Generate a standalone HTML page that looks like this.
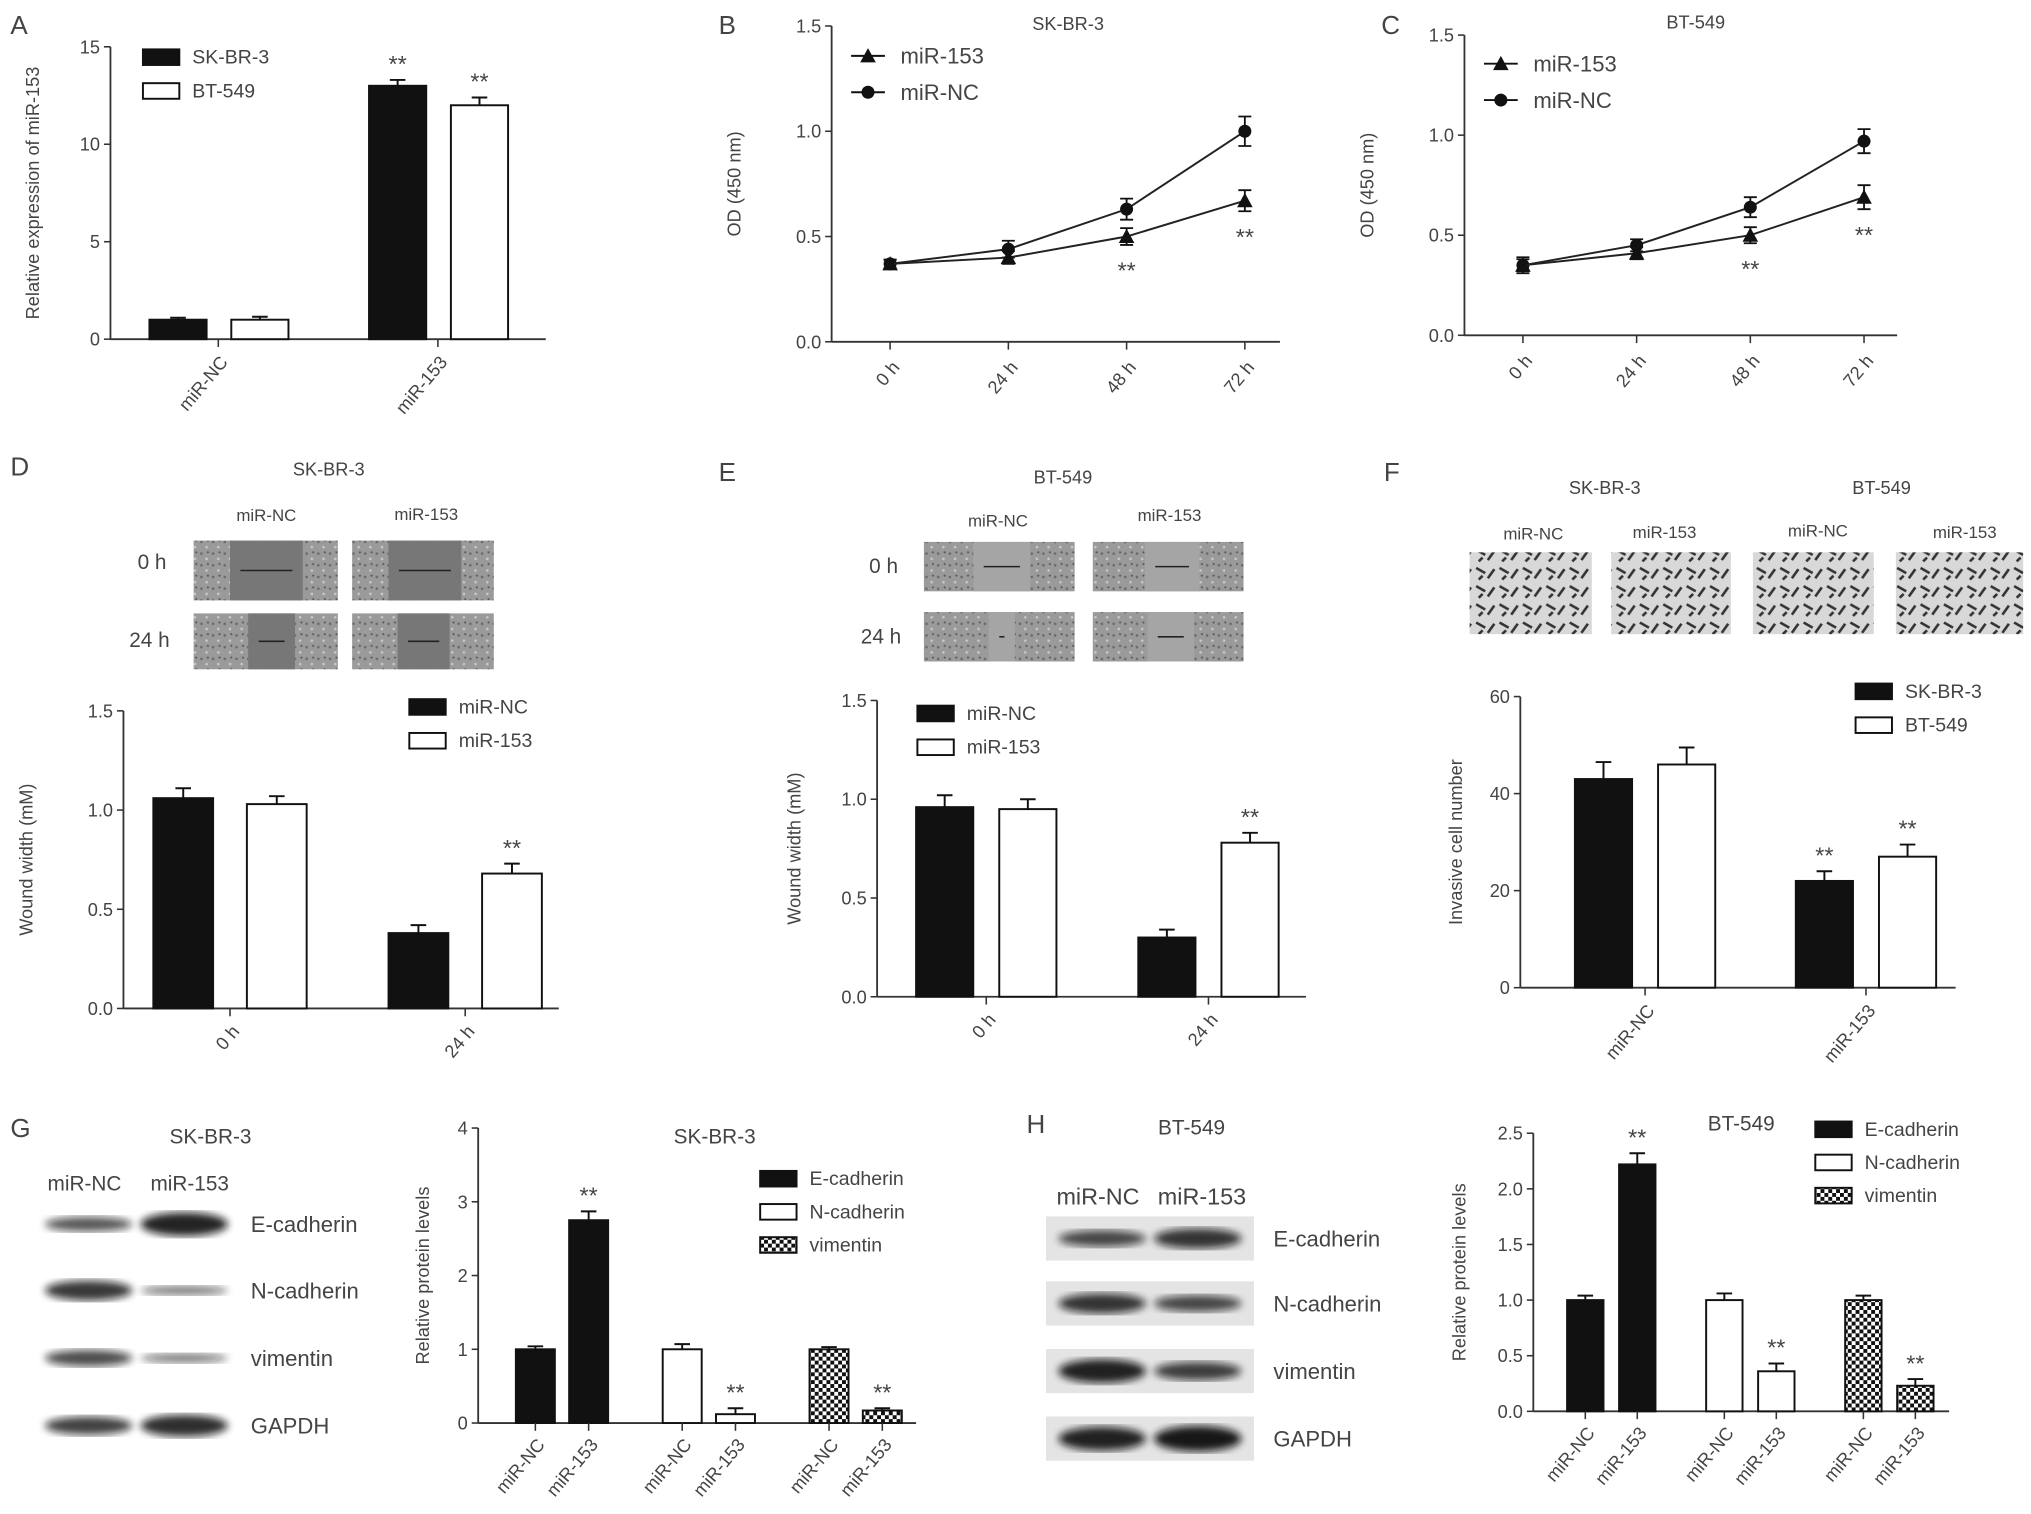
<!DOCTYPE html>
<html><head><meta charset="utf-8">
<style>
html,body{margin:0;padding:0;background:#fff;}
svg{display:block;font-family:"Liberation Sans",sans-serif;}
</style></head>
<body>
<svg id="fig" xmlns="http://www.w3.org/2000/svg" width="2031" height="1514" viewBox="0 0 1563 1165" preserveAspectRatio="none">
<defs>
<pattern id="chk" width="6" height="6" patternUnits="userSpaceOnUse">
<rect width="6" height="6" fill="#fff"/><rect width="3" height="3" fill="#111"/><rect x="3" y="3" width="3" height="3" fill="#111"/>
</pattern>
<filter id="blur"><feGaussianBlur stdDeviation="3"/></filter>
<pattern id="cells" width="9" height="9" patternUnits="userSpaceOnUse">
<rect width="9" height="9" fill="#9a9a9a"/><circle cx="2" cy="3" r="1" fill="#6a6a6a"/><circle cx="6" cy="7" r="1" fill="#c8c8c8"/><circle cx="7" cy="2" r="0.8" fill="#555"/>
</pattern>
<pattern id="inv" width="18" height="14" patternUnits="userSpaceOnUse">
<rect width="18" height="14" fill="#d8d8d8"/><path d="M2 3 L9 7 M11 11 L16 4 M4 12 L7 9" stroke="#333" stroke-width="2"/>
</pattern>
</defs>
</svg>
<script>
// ---- data ----
const aCats=['miR-NC','miR-153'];
const aSK=[1.0,13.0]; const aSKErr=[0.1,0.3];
const aBT=[1.0,12.0]; const aBTErr=[0.15,0.4];
const bTimes=['0 h','24 h','48 h','72 h'];
const bMiR153=[0.37,0.40,0.50,0.67]; const bMiR153Err=[0.02,0.03,0.04,0.05];
const bMiRNC=[0.37,0.44,0.63,1.00]; const bMiRNCErr=[0.02,0.04,0.05,0.07];
const cMiR153=[0.35,0.41,0.50,0.69]; const cMiR153Err=[0.03,0.03,0.04,0.06];
const cMiRNC=[0.35,0.45,0.64,0.97]; const cMiRNCErr=[0.04,0.03,0.05,0.06];
const dCats=['0 h','24 h'];
const dNC=[1.06,0.38]; const dNCErr=[0.05,0.04];
const d153=[1.03,0.68]; const d153Err=[0.04,0.05];
const eNC=[0.96,0.30]; const eNCErr=[0.06,0.04];
const e153=[0.95,0.78]; const e153Err=[0.05,0.05];
const fCats=['miR-NC','miR-153'];
const fSK=[43,22]; const fSKErr=[3.5,2];
const fBT=[46,27]; const fBTErr=[3.5,2.5];
const gProteins=['E-cadherin','N-cadherin','vimentin'];
const gNC=[1.0,1.0,1.0]; const gNCErr=[0.04,0.07,0.03];
const g153=[2.75,0.12,0.17]; const g153Err=[0.12,0.08,0.03];
const hNC=[1.0,1.0,1.0]; const hNCErr=[0.04,0.06,0.04];
const h153=[2.22,0.36,0.23]; const h153Err=[0.1,0.07,0.06];
const yTicks15=[0,5,10,15];
const yTicksOD=[0,0.5,1.0,1.5];
const yTicks60=[0,20,40,60];
const yTicks4=[0,1,2,3,4];
const yTicks25=[0,0.5,1.0,1.5,2.0,2.5];

const NS='http://www.w3.org/2000/svg';
const svg=document.getElementById('fig');
function mk(tag,attrs,txt){const e=document.createElementNS(NS,tag);for(const k in attrs)e.setAttribute(k,attrs[k]);if(txt!==undefined)e.textContent=txt;svg.appendChild(e);return e;}
function txt(x,y,s,size,anchor,name,rot){
  const e=mk('text',{x:x,y:y,'font-size':size||14,fill:'#444','text-anchor':anchor||'middle'},s);
  if(rot)e.setAttribute('transform','rotate('+rot+' '+x+' '+y+')');
  
  
  return e;}
function fmt(v,dec){return dec?v.toFixed(1):String(v);}
function makeY(yb,yt,max){return v=>yb-v/max*(yb-yt);}
function axes(x,yb,yt,xEnd,max,ticks,dec,label,lx){
  const sy=makeY(yb,yt,max);
  let l=mk('line',{x1:x,y1:yb,x2:x,y2:yt,stroke:'#333','stroke-width':1.4});
  
  
  l=mk('line',{x1:x,y1:yb,x2:xEnd,y2:yb,stroke:'#333','stroke-width':1.4});
  
  
  ticks.forEach(t=>{
    const tk=mk('line',{x1:x-5,y1:sy(t),x2:x,y2:sy(t),stroke:'#333','stroke-width':1.2});
    
    
    txt(x-8,sy(t)+5,fmt(t,dec),14,'end','y-tick-label');
  });
  const ym=(yb+yt)/2;
  txt(lx,ym,label,14,'middle','y-axis-title',-90);
  return sy;}
function errbar(cx,yv,ye,name){
  const e=mk('path',{d:`M${cx} ${yv} V${ye} M${cx-6} ${ye} H${cx+6}`,stroke:'#111','stroke-width':1.5,fill:'none'});
  
  }
function bar(x,w,sy,v,err,fill,name,star){
  const y0=sy(0),y1=sy(v);
  const r=mk('rect',{x:x,y:y1,width:w,height:y0-y1,fill:fill,stroke:'#111','stroke-width':1.5});
  
  
  errbar(x+w/2,y1,sy(v+err),name+'-error');
  if(star)txt(x+w/2,sy(v+err)-6,'**',18,'middle','significance-mark');}
function groupLabels(cats,centers,yb){cats.forEach((c,i)=>txt(centers[i]+8,yb+18,c,14,'end','x-tick-label',-50));}
function xtick(x,yb){const t=mk('line',{x1:x,y1:yb,x2:x,y2:yb+6,stroke:'#333','stroke-width':1.2});
  
  }
function legendBox(x,y,fill,label){
  const r=mk('rect',{x:x,y:y-6,width:28,height:12,fill:fill,stroke:'#111','stroke-width':1.5});
  
  
  txt(x+38,y+5,label,15,'start','legend-label');}
function marker(type,x,y){
  let m;
  if(type==='tri')m=mk('path',{d:`M${x} ${y-6} L${x+6} ${y+5} L${x-6} ${y+5} Z`,fill:'#111'});
  else m=mk('circle',{cx:x,cy:y,r:5,fill:'#111'});
  
  }
function legendLine(x,y,type,label){
  const l=mk('line',{x1:x,y1:y,x2:x+26,y2:y,stroke:'#111','stroke-width':1.5});
  
  
  marker(type,x+13,y);
  txt(x+38,y+6,label,17,'start','legend-label');}
function panelLetter(x,y,s){txt(x,y,s,20,'start','panel-letter-'+s.toLowerCase());}

// ---- A ----
panelLetter(8,26,'A');
let sy=axes(85,261,36,420,15,yTicks15,false,'Relative expression of miR-153',30);
aCats.forEach((c,i)=>{const gx=115+i*169;
  bar(gx,44,sy,aSK[i],aSKErr[i],'#111','bar-skbr3-'+c,i===1);
  bar(gx+63,44,sy,aBT[i],aBTErr[i],'#fff','bar-bt549-'+c,i===1);
  xtick(gx+53,261);});
groupLabels(aCats,aCats.map((c,i)=>115+i*169+53),261);
legendBox(110,44,'#111','SK-BR-3');legendBox(110,70,'#fff','BT-549');

// ---- line charts ----
function lineChart(x0,step,yb,yt,xEnd,n153,e153,nNC,eNC,title,tx,ty,lgy){
  const s=axes(x0-45,yb,yt,xEnd,1.5,yTicksOD,true,'OD (450 nm)',x0-115);
  const xs=bTimes.map((t,i)=>x0+i*step);
  [[nNC,eNC,'circ','line-mir-nc'],[n153,e153,'tri','line-mir-153']].forEach(([v,e,tp,nm])=>{
    const p=mk('polyline',{points:v.map((d,i)=>xs[i]+','+s(d)).join(' '),fill:'none',stroke:'#222','stroke-width':1.5});
    
    
    v.forEach((d,i)=>{const eb=mk('path',{d:`M${xs[i]} ${s(d-e[i])} V${s(d+e[i])} M${xs[i]-5} ${s(d-e[i])} H${xs[i]+5} M${xs[i]-5} ${s(d+e[i])} H${xs[i]+5}`,stroke:'#111','stroke-width':1.4,fill:'none'});
      
      
      marker(tp,xs[i],s(d));});
  });
  xs.forEach((x,i)=>{xtick(x,yb);txt(x+8,yb+20,bTimes[i],14,'end','x-tick-label',-50);});
  txt(xs[2],s(n153[2]-e153[2])+26,'**',18,'middle','significance-mark');
  txt(xs[3],s(n153[3]-e153[3])+26,'**',18,'middle','significance-mark');
  txt(tx,ty,title,14,'middle','panel-title');
  legendLine(x0-30,lgy,'tri','miR-153');legendLine(x0-30,lgy+28,'circ','miR-NC');
}
panelLetter(553,26,'B');
lineChart(685,91,263,20,985,bMiR153,bMiR153Err,bMiRNC,bMiRNCErr,'SK-BR-3',822,23,43);
panelLetter(1063,26,'C');
lineChart(1172,87.5,258,27,1460,cMiR153,cMiR153Err,cMiRNC,cMiRNCErr,'BT-549',1305,22,49);

// ---- images ----
function img(x,y,w,h,fill,name){const r=mk('rect',{x:x,y:y,width:w,height:h,fill:fill});
  
  return r;}
function wound(x,y,w,h,gapL,gapR,name,light){
  img(x,y,w,h,'url(#cells)',name);
  img(x+gapL,y,gapR-gapL,h,light?'#a5a5a5':'#777',name+'-gap');
  const l=mk('line',{x1:x+gapL+8,y1:y+h/2,x2:x+gapR-8,y2:y+h/2,stroke:'#222','stroke-width':1.2});
  
  }

// ---- D ----
panelLetter(8,366,'D');
txt(253,366,'SK-BR-3',14,'middle','panel-title');
txt(205,401,'miR-NC',13,'middle','image-label');txt(328,400,'miR-153',13,'middle','image-label');
txt(117,438,'0 h',16,'middle','image-row-label');txt(115,498,'24 h',16,'middle','image-row-label');
wound(149,416,111,46,28,84,'wound-image-nc-0h');wound(271,416,109,46,28,84,'wound-image-153-0h');
wound(149,472,111,43,42,78,'wound-image-nc-24h');wound(271,472,109,43,35,75,'wound-image-153-24h');
sy=axes(95,776,547,430,1.5,yTicksOD,true,'Wound width (mM)',25);
dCats.forEach((c,i)=>{const gx=118+i*181;
  bar(gx,46,sy,dNC[i],dNCErr[i],'#111','bar-mir-nc-'+c,false);
  bar(gx+72,46,sy,d153[i],d153Err[i],'#fff','bar-mir-153-'+c,i===1);
  xtick(gx+59,776);});
groupLabels(dCats,dCats.map((c,i)=>118+i*181+59),776);
legendBox(315,544,'#111','miR-NC');legendBox(315,570,'#fff','miR-153');

// ---- E ----
panelLetter(553,370,'E');
txt(818,372,'BT-549',14,'middle','panel-title');
txt(768,405,'miR-NC',13,'middle','image-label');txt(900,401,'miR-153',13,'middle','image-label');
txt(680,441,'0 h',16,'middle','image-row-label');txt(678,495,'24 h',16,'middle','image-row-label');
wound(711,417,116,38,38,82,'wound-image-nc-0h',true);wound(841,417,116,38,40,82,'wound-image-153-0h',true);
wound(711,471,116,38,50,70,'wound-image-nc-24h',true);wound(841,471,116,38,42,78,'wound-image-153-24h',true);
sy=axes(675,767,539,1005,1.5,yTicksOD,true,'Wound width (mM)',616);
dCats.forEach((c,i)=>{const gx=705+i*171;
  bar(gx,44,sy,eNC[i],eNCErr[i],'#111','bar-mir-nc-'+c,false);
  bar(gx+64,44,sy,e153[i],e153Err[i],'#fff','bar-mir-153-'+c,i===1);
  xtick(gx+54,767);});
groupLabels(dCats,dCats.map((c,i)=>705+i*171+54),767);
legendBox(706,549,'#111','miR-NC');legendBox(706,575,'#fff','miR-153');

// ---- F ----
panelLetter(1065,370,'F');
txt(1235,380,'SK-BR-3',14,'middle','panel-title');txt(1448,380,'BT-549',14,'middle','panel-title');
[['miR-NC',1180,415],['miR-153',1281,414],['miR-NC',1399,413],['miR-153',1512,414]].forEach(a=>txt(a[1],a[2],a[0],13,'middle','image-label'));
img(1131,425,94,63,'url(#inv)','invasion-image-sk-nc');img(1240,425,92,63,'url(#inv)','invasion-image-sk-153');
img(1349,425,93,63,'url(#inv)','invasion-image-bt-nc');img(1459,425,98,63,'url(#inv)','invasion-image-bt-153');
sy=axes(1170,760,536,1505,60,yTicks60,false,'Invasive cell number',1125);
fCats.forEach((c,i)=>{const gx=1212+i*170;
  bar(gx,44,sy,fSK[i],fSKErr[i],'#111','bar-skbr3-'+c,i===1);
  bar(gx+64,44,sy,fBT[i],fBTErr[i],'#fff','bar-bt549-'+c,i===1);
  xtick(gx+54,760);});
groupLabels(fCats,fCats.map((c,i)=>1212+i*170+54),760);
legendBox(1428,532,'#111','SK-BR-3');legendBox(1428,558,'#fff','BT-549');

// ---- blots ----
function blot(x0,w,ys,labels,lx,intens,name,bg){
  if(bg)ys.forEach(y=>img(x0,y-17,w,34,'#e4e4e4','blot-strip'));
  ys.forEach((y,r)=>{[0,1].forEach(c=>{
    const cx=x0+w*(c?0.73:0.27);
    const e=mk('ellipse',{cx:cx,cy:y,rx:w*0.21,ry:7*intens[r][c],fill:'#111',opacity:0.35+0.6*intens[r][c]/1.4,filter:'url(#blur)'});
    
    });
    txt(lx,y+6,labels[r],17,'start','blot-label');});}

// ---- G ----
panelLetter(8,875,'G');
txt(162,880,'SK-BR-3',16,'middle','panel-title');
txt(65,916,'miR-NC',16,'middle','lane-label');txt(146,916,'miR-153',16,'middle','lane-label');
blot(25,160,[942,993,1045,1097],['E-cadherin','N-cadherin','vimentin','GAPDH'],193,[[0.8,1.3],[1.1,0.5],[0.9,0.5],[1,1.2]],'sk-blot',false);
function proteinChart(x,yb,yt,xEnd,max,ticks,dec,lx,xStart,gStep,bw,sStep,nc,ncE,m153,m153E,title,tx,ty,lgx,lgy,lgStep){
  const s=axes(x,yb,yt,xEnd,max,ticks,dec,'Relative protein levels',lx);
  const fills=['#111','#fff','url(#chk)'];
  gProteins.forEach((p,i)=>{const gx=xStart+i*gStep;
    bar(gx,bw,s,nc[i],ncE[i],fills[i],'bar-'+p+'-mir-nc',false);
    bar(gx+sStep,bw,s,m153[i],m153E[i],fills[i],'bar-'+p+'-mir-153',true);
    xtick(gx+bw/2,yb);xtick(gx+sStep+bw/2,yb);
    txt(gx+bw/2+8,yb+17,'miR-NC',14,'end','x-tick-label',-50);
    txt(gx+sStep+bw/2+8,yb+17,'miR-153',14,'end','x-tick-label',-50);});
  txt(tx,ty,title,16,'middle','chart-title');
  gProteins.forEach((p,i)=>legendBox(lgx,lgy+i*lgStep,fills[i],p));}
proteinChart(368,1095,868,705,4,yTicks4,false,330,397,113,30,41,gNC,gNCErr,g153,g153Err,'SK-BR-3',550,880,585,907,25.5);

// ---- H ----
panelLetter(790,872,'H');
txt(917,873,'BT-549',16,'middle','panel-title');
txt(845,927,'miR-NC',18,'middle','lane-label');txt(925,927,'miR-153',18,'middle','lane-label');
blot(805,160,[953,1003,1055,1107],['E-cadherin','N-cadherin','vimentin','GAPDH'],980,[[0.9,1.1],[1.1,0.9],[1.3,1],[1.3,1.4]],'bt-blot',true);
proteinChart(1180,1086,872,1500,2.5,yTicks25,true,1128,1206,107,28,40,hNC,hNCErr,h153,h153Err,'BT-549',1340,870,1397,869,25.5);
</script>
</body></html>
